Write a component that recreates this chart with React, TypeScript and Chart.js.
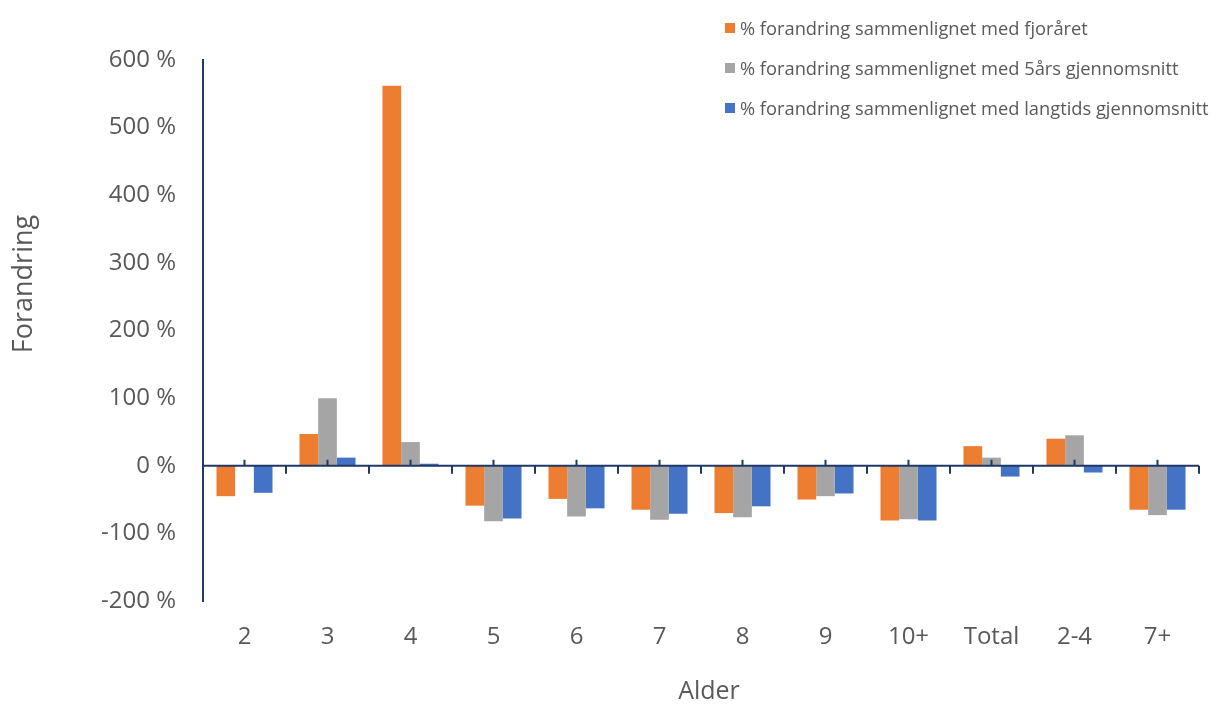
import React, { useEffect, useRef } from "react";
import { Chart, registerables } from "chart.js";

Chart.register(...registerables);

const categories = ["2", "3", "4", "5", "6", "7", "8", "9", "10+", "Total", "2-4", "7+"];

const vsLastYear = [-45, 47, 562, -59, -49, -65, -70, -50, -81, 29, 40, -65];
const vsFiveYear = [null, 100, 35, -82, -75, -80, -76, -45, -79, 12, 45, -73];
const vsLongTerm = [-40, 12, 3, -78, -63, -71, -60, -41, -81, -16, -10, -65];

const seriesLabels = [
  "% forandring sammenlignet med fjoråret",
  "% forandring sammenlignet med 5års gjennomsnitt",
  "% forandring sammenlignet med langtids gjennomsnitt",
];
const seriesColors = ["#ED7D31", "#A5A5A5", "#4472C4"];

const yTicks = [-200, -100, 0, 100, 200, 300, 400, 500, 600];

const xTitle = "Alder";
const yTitle = "Forandring";

const AXIS_COLOR = "#1F3864";
const TEXT_COLOR = "#595959";
const FONT = "'Open Sans', sans-serif";

// Draws the category axis line at zero with its tick marks, over the bars,
// and the two axis titles.
const zeroAxisPlugin = {
  id: "zeroAxis",
  afterDatasetsDraw(chart: any) {
    const { ctx, chartArea, scales } = chart;
    const x = scales.x;
    const y0 = scales.y.getPixelForValue(0);
    ctx.save();
    ctx.strokeStyle = AXIS_COLOR;
    ctx.lineWidth = 2;
    ctx.beginPath();
    ctx.moveTo(chartArea.left, y0);
    ctx.lineTo(chartArea.right, y0);
    const n = categories.length;
    const step = (chartArea.right - chartArea.left) / n;
    for (let i = 0; i < n; i++) {
      const cx = x.getPixelForValue(i);
      ctx.moveTo(cx, y0);
      ctx.lineTo(cx, y0 - 6);
    }
    for (let i = 1; i <= n; i++) {
      const bx = chartArea.left + step * i;
      ctx.moveTo(bx, y0);
      ctx.lineTo(bx, y0 + 8);
    }
    ctx.stroke();

    ctx.fillStyle = TEXT_COLOR;
    ctx.textAlign = "center";
    ctx.textBaseline = "middle";
    ctx.font = `25px ${FONT}`;
    ctx.fillText(xTitle, 709, 692);
    ctx.translate(24, 284);
    ctx.rotate(-Math.PI / 2);
    ctx.font = `27px ${FONT}`;
    ctx.fillText(yTitle, 0, 0);
    ctx.restore();
  },
};

export default function App() {
  const canvasRef = useRef<HTMLCanvasElement | null>(null);

  useEffect(() => {
    if (!canvasRef.current) return;
    const data = [vsLastYear, vsFiveYear, vsLongTerm];
    const chart = new Chart(canvasRef.current, {
      type: "bar",
      data: {
        labels: categories,
        datasets: data.map((values, i) => ({
          label: seriesLabels[i],
          data: values,
          backgroundColor: seriesColors[i],
          borderWidth: 0,
          barPercentage: 1,
          categoryPercentage: 0.675,
        })),
      },
      options: {
        responsive: false,
        animation: false,
        maintainAspectRatio: false,
        layout: { padding: { top: 60, right: 26, bottom: 0, left: 0 } },
        plugins: {
          legend: { display: false },
          tooltip: { enabled: false },
        },
        scales: {
          x: {
            grid: { display: false, drawTicks: false },
            border: { display: false },
            ticks: {
              color: TEXT_COLOR,
              font: { family: FONT, size: 24 },
              padding: 22,
              maxRotation: 0,
            },
            afterFit(scale: any) {
              scale.height = 105;
            },
          },
          y: {
            min: -200,
            max: 600,
            afterBuildTicks(scale: any) {
              scale.ticks = yTicks.map((v) => ({ value: v }));
            },
            grid: { display: false, drawTicks: false },
            border: { display: true, color: AXIS_COLOR, width: 2 },
            ticks: {
              color: TEXT_COLOR,
              font: { family: FONT, size: 24 },
              padding: 27,
              callback: (v: any) => `${v} %`,
            },
            afterFit(scale: any) {
              scale.width = 203;
            },
          },
        },
      },
      plugins: [zeroAxisPlugin],
    });
    return () => chart.destroy();
  }, []);

  const rowCenters = [28, 68, 108];

  return (
    <div style={{ position: "fixed", left: 0, top: 0, width: 1225, height: 706, background: "#fff" }}>
      <canvas ref={canvasRef} width={1225} height={706} style={{ position: "absolute", left: 0, top: 0 }} />
      {seriesLabels.map((label, i) => (
        <div
          key={label}
          style={{
            position: "absolute",
            left: 725,
            top: rowCenters[i] - 12,
            height: 24,
            display: "flex",
            alignItems: "center",
            fontFamily: FONT,
            fontSize: 18.3,
            color: TEXT_COLOR,
            whiteSpace: "nowrap",
          }}
        >
          <span style={{ display: "inline-block", width: 10, height: 10, background: seriesColors[i], marginRight: 5 }} />
          <span style={{ lineHeight: "24px" }}>{label}</span>
        </div>
      ))}
    </div>
  );
}
